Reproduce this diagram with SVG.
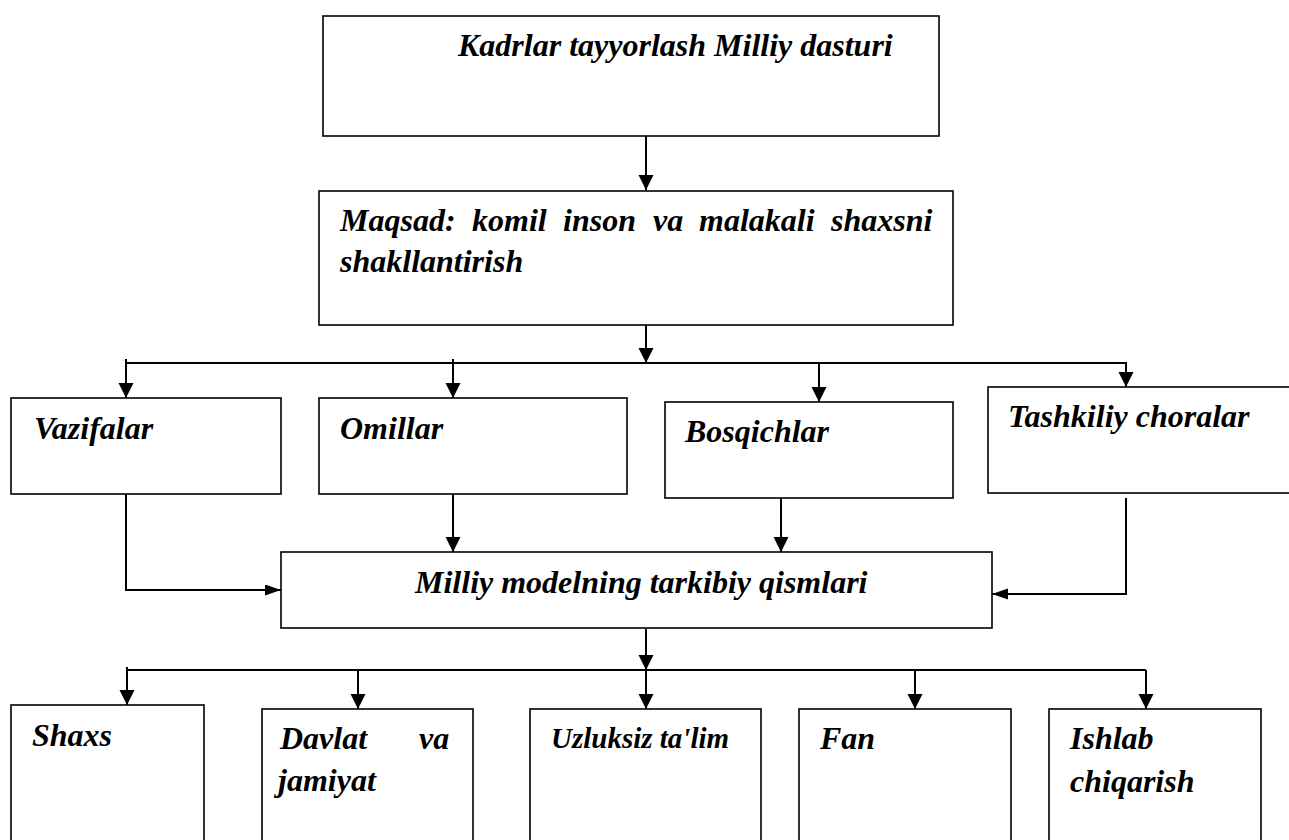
<svg xmlns="http://www.w3.org/2000/svg" width="1289" height="840" viewBox="0 0 1289 840">
<style>
.box{fill:#fff;stroke:#000;stroke-width:1.6}
.t{font-family:"Liberation Serif","Times New Roman",serif;font-style:italic;font-weight:bold;font-size:32px;fill:#000}
.c{fill:none;stroke:#000;stroke-width:2}
</style>
<defs>
<marker id="ah" markerUnits="userSpaceOnUse" markerWidth="16" markerHeight="16" refX="15" refY="7.5" orient="auto">
<path d="M0,0 L15,7.5 L0,15 z" fill="#000"/>
</marker>
<marker id="ahh" markerUnits="userSpaceOnUse" markerWidth="17" markerHeight="12" refX="16" refY="5.5" orient="auto">
<path d="M0,0 L16,5.5 L0,11 z" fill="#000"/>
</marker>
</defs>
<rect width="1289" height="840" fill="#fff"/>
<g id="connectors">
<line class="c" x1="646" y1="136" x2="646" y2="190" marker-end="url(#ah)"/>
<line class="c" x1="646" y1="325" x2="646" y2="363" marker-end="url(#ah)"/>
<line class="c" x1="126" y1="363" x2="1126" y2="363"/>
<line class="c" x1="126" y1="359" x2="126" y2="398" marker-end="url(#ah)"/>
<line class="c" x1="453" y1="359" x2="453" y2="398" marker-end="url(#ah)"/>
<line class="c" x1="819" y1="362" x2="819" y2="402" marker-end="url(#ah)"/>
<line class="c" x1="1126" y1="362" x2="1126" y2="387" marker-end="url(#ah)"/>
<polyline class="c" points="126,494 126,590 281,590" marker-end="url(#ahh)"/>
<line class="c" x1="453" y1="494" x2="453" y2="552" marker-end="url(#ah)"/>
<line class="c" x1="781" y1="493" x2="781" y2="552" marker-end="url(#ah)"/>
<polyline class="c" points="1126,498 1126,594 992,594" marker-end="url(#ahh)"/>
<line class="c" x1="646" y1="629" x2="646" y2="670" marker-end="url(#ah)"/>
<line class="c" x1="127" y1="670" x2="1146" y2="670"/>
<line class="c" x1="127" y1="667" x2="127" y2="705" marker-end="url(#ah)"/>
<line class="c" x1="358" y1="670" x2="358" y2="709" marker-end="url(#ah)"/>
<line class="c" x1="646" y1="670" x2="646" y2="709" marker-end="url(#ah)"/>
<line class="c" x1="915" y1="670" x2="915" y2="709" marker-end="url(#ah)"/>
<line class="c" x1="1146" y1="670" x2="1146" y2="709" marker-end="url(#ah)"/>
</g>
<g id="n-kadrlar">
<rect class="box" x="323" y="16" width="616" height="120"/>
<text class="t" x="458" y="56">Kadrlar tayyorlash Milliy dasturi</text>
</g>
<g id="n-maqsad">
<rect class="box" x="319" y="191" width="634" height="134"/>
<text class="t" y="231"><tspan x="340">Maqsad:</tspan><tspan x="472">komil</tspan><tspan x="563">inson</tspan><tspan x="653">va</tspan><tspan x="699">malakali</tspan><tspan x="831">shaxsni</tspan></text>
<text class="t" x="340" y="272">shakllantirish</text>
</g>
<g id="n-vazifalar">
<rect class="box" x="11" y="398" width="270" height="96"/>
<text class="t" x="34" y="439">Vazifalar</text>
</g>
<g id="n-omillar">
<rect class="box" x="319" y="398" width="308" height="96"/>
<text class="t" x="340" y="439">Omillar</text>
</g>
<g id="n-bosqichlar">
<rect class="box" x="665" y="402" width="288" height="96"/>
<text class="t" x="685" y="442">Bosqichlar</text>
</g>
<g id="n-tashkiliy">
<rect class="box" x="988" y="387" width="320" height="106"/>
<text class="t" x="1008" y="427">Tashkiliy choralar</text>
</g>
<g id="n-milliy">
<rect class="box" x="281" y="552" width="711" height="76"/>
<text class="t" x="415" y="593">Milliy modelning tarkibiy qismlari</text>
</g>
<g id="n-shaxs">
<rect class="box" x="11" y="705" width="193" height="150"/>
<text class="t" x="32" y="746">Shaxs</text>
</g>
<g id="n-davlat">
<rect class="box" x="262" y="709" width="211" height="150"/>
<text class="t" y="749"><tspan x="280">Davlat</tspan><tspan x="419">va</tspan></text>
<text class="t" x="278" y="791">jamiyat</text>
</g>
<g id="n-uzluksiz">
<rect class="box" x="530" y="709" width="231" height="150"/>
<text class="t" x="551" y="748" style="font-size:29px">Uzluksiz ta'lim</text>
</g>
<g id="n-fan">
<rect class="box" x="799" y="709" width="212" height="150"/>
<text class="t" x="820" y="749">Fan</text>
</g>
<g id="n-ishlab">
<rect class="box" x="1049" y="709" width="212" height="150"/>
<text class="t" x="1070" y="749">Ishlab</text>
<text class="t" x="1070" y="792">chiqarish</text>
</g>
</svg>
